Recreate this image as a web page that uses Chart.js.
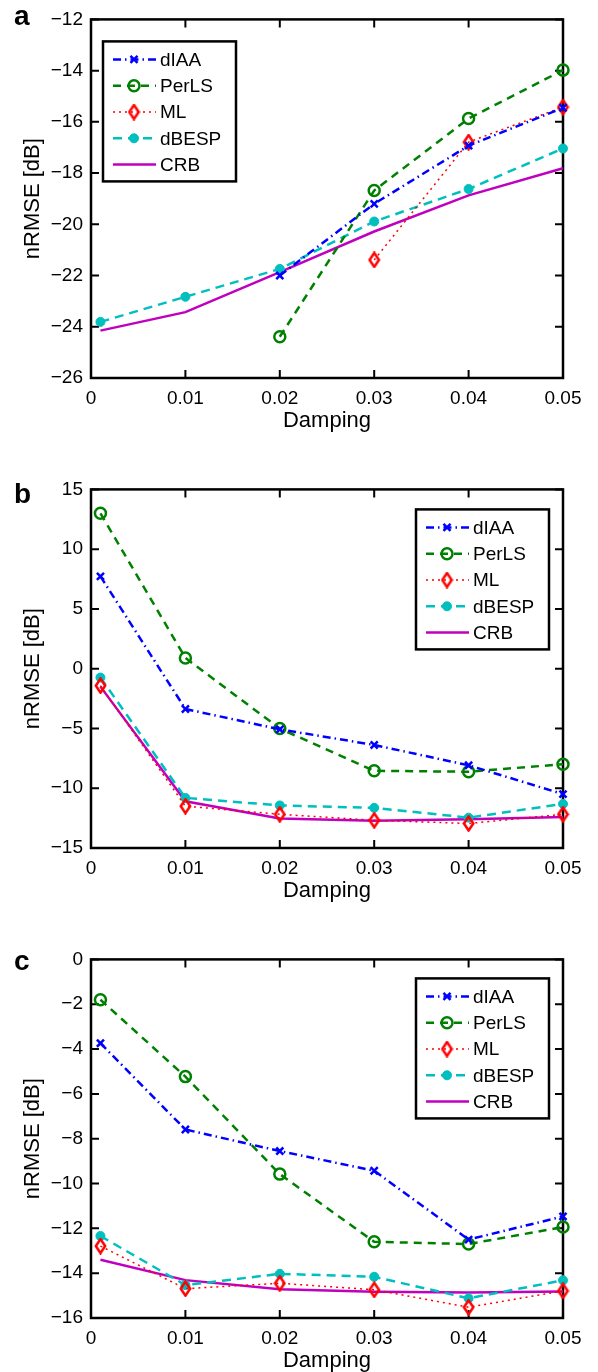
<!DOCTYPE html>
<html>
<head>
<meta charset="utf-8">
<script src="https://cdn.jsdelivr.net/npm/chart.js@4/dist/chart.umd.min.js"></script>
<style>
html, body { margin:0; padding:0; background:#fff; overflow:hidden; width:598px; height:1372px; }
.panel { position:absolute; left:0; width:598px; height:460px; }
</style>
</head>
<body>
<div class="panel" style="top:0px"><canvas id="chartA" width="598" height="460"></canvas></div>
<div class="panel" style="top:470px"><canvas id="chartB" width="598" height="460"></canvas></div>
<div class="panel" style="top:940px"><canvas id="chartC" width="598" height="460"></canvas></div>
<script>
// x values and ticks (shared)
const damping = [0.001, 0.01, 0.02, 0.03, 0.04, 0.05]
const xTicks = [0, 0.01, 0.02, 0.03, 0.04, 0.05]
const xTickLabels = ["0", "0.01", "0.02", "0.03", "0.04", "0.05"]
const seriesNames = ["dIAA", "PerLS", "ML", "dBESP", "CRB"]

// panel a
const yTicksA = [-26, -24, -22, -20, -18, -16, -14, -12]
const dIAA_a  = [null, null, -22.0, -19.2, -16.93, -15.45]
const perLS_a = [null, null, -24.39, -18.68, -15.87, -13.98]
const ml_a    = [null, null, null, -21.39, -16.79, -15.42]
const dBESP_a = [-23.81, -22.83, -21.74, -19.89, -18.62, -17.04]
const crb_a   = [-24.15, -23.43, -21.87, -20.28, -18.87, -17.81]

// panel b
const yTicksB = [-15, -10, -5, 0, 5, 10, 15]
const dIAA_b  = [7.72, -3.37, -5.07, -6.38, -8.08, -10.49]
const perLS_b = [13.0, 0.9, -5.01, -8.54, -8.62, -7.99]
const ml_b    = [-1.42, -11.5, -12.18, -12.68, -12.95, -12.18]
const dBESP_b = [-0.74, -10.81, -11.44, -11.64, -12.46, -11.31]
const crb_b   = [-1.5, -11.09, -12.54, -12.73, -12.59, -12.4]

// panel c
const yTicksC = [-16, -14, -12, -10, -8, -6, -4, -2, 0]
const dIAA_c  = [-3.74, -7.59, -8.55, -9.43, -12.5, -11.47]
const perLS_c = [-1.8, -5.23, -9.58, -12.6, -12.7, -11.94]
const ml_c    = [-12.79, -14.69, -14.45, -14.74, -15.52, -14.79]
const dBESP_c = [-12.34, -14.53, -14.03, -14.16, -15.12, -14.32]
const crb_c   = [-13.4, -14.31, -14.72, -14.83, -14.86, -14.82]

Chart.defaults.font.family = "'Liberation Sans', Arial, sans-serif"
Chart.defaults.font.size = 19
Chart.defaults.color = "#000"

// narrow matlab style diamond
const diamond = document.createElement("canvas")
diamond.width = 13
diamond.height = 17
const dctx = diamond.getContext("2d")
dctx.strokeStyle = "#ff0000"
dctx.lineWidth = 2.5
dctx.beginPath()
dctx.moveTo(6.5, 1.5); dctx.lineTo(11.2, 8.5); dctx.lineTo(6.5, 15.5); dctx.lineTo(1.8, 8.5); dctx.closePath()
dctx.stroke()

function minus(v){
    return String(v).replace("-", "\u2212")
}

function makeDatasets(d){
    const styles = [
        {borderColor: "#0000ff", borderWidth: 2.5, borderDash: [8, 4, 1.5, 4], pointStyle: "crossRot", pointRadius: 5, pointBorderWidth: 2.5},
        {borderColor: "#008000", borderWidth: 2.5, borderDash: [8, 6], pointStyle: "circle", pointRadius: 5.5, pointBorderWidth: 2.5, pointBackgroundColor: "rgba(0,0,0,0)"},
        {borderColor: "#ff0000", borderWidth: 1.5, borderDash: [2, 4], pointStyle: diamond, pointRadius: 6, pointBorderWidth: 2.5},
        {borderColor: "#00bfbf", borderWidth: 2.5, borderDash: [9, 6], pointStyle: "circle", pointRadius: 4.5, pointBorderWidth: 1, pointBackgroundColor: "#00bfbf"},
        {borderColor: "#bf00bf", borderWidth: 2.5, borderDash: [], pointStyle: "circle", pointRadius: 0, pointBorderWidth: 0}
    ]
    return d.map((vals, i) => Object.assign({
        label: seriesNames[i],
        data: vals.map((v, j) => ({x: damping[j], y: v})),
        fill: false,
        tension: 0,
        clip: false,
        pointBackgroundColor: styles[i].borderColor,
        pointBorderColor: styles[i].borderColor
    }, styles[i]))
}

const matlabBox = {
    id: "matlabBox",
    beforeDatasetsDraw(chart){
        const ctx = chart.ctx, a = chart.chartArea
        ctx.save()
        ctx.strokeStyle = "#000"
        ctx.lineWidth = 2
        ctx.beginPath()
        for(const v of xTicks){
            const x = chart.scales.x.getPixelForValue(v)
            ctx.moveTo(x, a.bottom); ctx.lineTo(x, a.bottom - 8)
            ctx.moveTo(x, a.top); ctx.lineTo(x, a.top + 8)
        }
        for(const t of chart.scales.y.ticks){
            const y = chart.scales.y.getPixelForValue(t.value)
            ctx.moveTo(a.left, y); ctx.lineTo(a.left + 8, y)
            ctx.moveTo(a.right, y); ctx.lineTo(a.right - 8, y)
        }
        ctx.stroke()
        ctx.lineWidth = 2.5
        ctx.strokeRect(a.left, a.top, a.right - a.left, a.bottom - a.top)
        ctx.restore()
    },
    afterDatasetsDraw(chart, args, opts){
        const ctx = chart.ctx, a = chart.chartArea
        const w = 133, h = 140
        const lx = opts.side == "left" ? a.left + 12 : a.right - 14 - w
        const ly = a.top + opts.top
        ctx.save()
        ctx.fillStyle = "#fff"
        ctx.fillRect(lx, ly, w, h)
        ctx.strokeStyle = "#000"
        ctx.lineWidth = 2.5
        ctx.strokeRect(lx, ly, w, h)
        chart.data.datasets.forEach((ds, i) => {
            const y = ly + 18 + i * 26.3
            ctx.save()
            ctx.strokeStyle = ds.borderColor
            ctx.lineWidth = ds.borderWidth
            ctx.setLineDash(ds.borderDash)
            ctx.beginPath(); ctx.moveTo(lx + 10, y); ctx.lineTo(lx + 53, y); ctx.stroke()
            ctx.restore()
            if(ds.pointRadius > 0){
                ctx.save()
                ctx.setLineDash([])
                ctx.strokeStyle = ds.pointBorderColor
                ctx.fillStyle = ds.pointBackgroundColor
                ctx.lineWidth = ds.pointBorderWidth
                Chart.helpers.drawPoint(ctx, {pointStyle: ds.pointStyle, radius: ds.pointRadius, borderWidth: ds.pointBorderWidth, rotation: 0}, lx + 31, y)
                ctx.restore()
            }
            ctx.fillStyle = "#000"
            ctx.font = "19px 'Liberation Sans', Arial, sans-serif"
            ctx.textBaseline = "middle"
            ctx.fillText(ds.label, lx + 57, y + 1)
        })
        ctx.restore()
    },
    afterDraw(chart, args, opts){
        const ctx = chart.ctx
        ctx.save()
        ctx.fillStyle = "#000"
        ctx.font = "bold 28px 'Liberation Sans', Arial, sans-serif"
        ctx.textBaseline = "alphabetic"
        ctx.fillText(opts.letter, 14, opts.letterY)
        ctx.restore()
    }
}

function drawPanel(id, letter, letterY, yTicks, series, side, legendTop){
    new Chart(document.getElementById(id), {
        type: "line",
        data: {datasets: makeDatasets(series)},
        plugins: [matlabBox],
        options: {
            responsive: false,
            animation: false,
            layout: {padding: {top: 14, right: 35, left: 0, bottom: 0}},
            plugins: {
                legend: {display: false},
                tooltip: {enabled: false},
                matlabBox: {letter: letter, letterY: letterY, side: side, top: legendTop}
            },
            scales: {
                x: {
                    type: "linear",
                    min: xTicks[0],
                    max: xTicks[xTicks.length - 1],
                    grid: {display: false, drawTicks: false},
                    border: {display: false},
                    afterBuildTicks: s => { s.ticks = xTicks.map(v => ({value: v})) },
                    afterFit: s => { s.height = 82 },
                    ticks: {padding: 9, maxRotation: 0, autoSkip: false, callback: (v, i) => xTickLabels[i]},
                    title: {display: true, text: "Damping", font: {size: 22}, padding: {top: 0, bottom: 26}}
                },
                y: {
                    min: yTicks[0],
                    max: yTicks[yTicks.length - 1],
                    grid: {display: false, drawTicks: false},
                    border: {display: false},
                    afterBuildTicks: s => { s.ticks = yTicks.map(v => ({value: v})) },
                    afterFit: s => { s.width = 91 },
                    ticks: {padding: 8, autoSkip: false, callback: (v, i) => minus(yTicks[i])},
                    title: {display: true, text: "nRMSE [dB]", font: {size: 22}, padding: {top: 20, bottom: 0}}
                }
            }
        }
    })
}

drawPanel("chartA", "a", 25, yTicksA, [dIAA_a, perLS_a, ml_a, dBESP_a, crb_a], "left", 22)
drawPanel("chartB", "b", 33, yTicksB, [dIAA_b, perLS_b, ml_b, dBESP_b, crb_b], "right", 20)
drawPanel("chartC", "c", 30, yTicksC, [dIAA_c, perLS_c, ml_c, dBESP_c, crb_c], "right", 19)
</script>
</body>
</html>
